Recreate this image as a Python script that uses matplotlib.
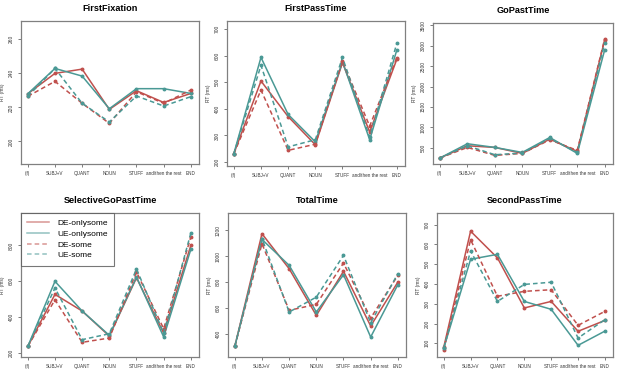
import matplotlib
matplotlib.use("Agg")
import matplotlib.pyplot as plt

plt.rcParams["font.family"] = ["Liberation Sans", "DejaVu Sans"]

# regions along the sentence
regions = ["(if)", "SUBJ+V", "QUANT", "NOUN", "STUFF", "and/then the rest", "END"]
conditions = ["DE-onlysome", "UE-onlysome", "DE-some", "UE-some"]

# mean RT (ms) per condition, order: DE-onlysome, UE-onlysome, DE-some, UE-some
firstFixation = [
    [228, 240, 242.5, 218.8, 229.8, 222.9, 228.2],
    [228, 242.9, 238.4, 219.2, 231.0, 231.0, 228.2],
    [226.5, 235.3, 222.4, 210.6, 229.2, 222.4, 230.2],
    [226.5, 242.9, 222.4, 211.4, 226.7, 220.8, 226.3],
]
firstPassTime = [
    [231, 505, 371, 265, 574, 313, 587],
    [231, 594, 379, 276, 578, 284, 622],
    [231, 471, 244, 267, 580, 335, 593],
    [231, 564, 257, 284, 594, 294, 647],
]
goPastTime = [
    [248, 549, 508, 362, 711, 411, 3150],
    [248, 598, 508, 386, 752, 362, 2906],
    [248, 508, 313, 362, 695, 435, 3175],
    [248, 549, 329, 370, 728, 386, 3069],
]
selectiveGoPastTime = [
    [235, 526, 433, 293, 619, 310, 800],
    [235, 599, 433, 297, 623, 288, 778],
    [235, 496, 258, 282, 651, 334, 847],
    [235, 562, 273, 306, 668, 310, 869],
]
totalTime = [
    [305, 1174, 904, 544, 884, 462, 801],
    [305, 1130, 930, 570, 858, 377, 781],
    [305, 1097, 583, 629, 948, 523, 853],
    [305, 1136, 570, 685, 1007, 487, 866],
]
secondPassTime = [
    [80, 667, 532, 279, 312, 161, 216],
    [75, 525, 550, 312, 272, 90, 162],
    [68, 624, 338, 363, 371, 191, 262],
    [75, 567, 312, 398, 409, 127, 220],
]

titles = ["FirstFixation", "FirstPassTime", "GoPastTime",
          "SelectiveGoPastTime", "TotalTime", "SecondPassTime"]
measures = [firstFixation, firstPassTime, goPastTime,
            selectiveGoPastTime, totalTime, secondPassTime]
yticks = [[200, 220, 240, 260],
          [200, 300, 400, 500, 600, 700],
          [500, 1000, 1500, 2000, 2500, 3000, 3500],
          [200, 400, 600, 800],
          [400, 600, 800, 1000, 1200],
          [100, 200, 300, 400, 500, 600, 700]]
ylims = [(186.7, 270.8), (185, 731), (102, 3557),
         (176, 981), (223, 1334), (31, 759)]

colors = ["#c0504d", "#4a9995", "#c0504d", "#4a9995"]
styles = ["-", "-", "--", "--"]

W, H = 624, 383
# axes boxes in pixels: left, right, top, bottom
boxes = [(21, 199, 21, 164), (227, 405, 21, 166), (433, 613, 23, 164),
         (21, 199, 213, 357), (228, 406, 213, 357), (437, 613, 213, 357)]

fig = plt.figure(figsize=(W / 100, H / 100), dpi=100)
fig.patch.set_facecolor("white")

for i in range(6):
    l, r, t, b = boxes[i]
    ax = fig.add_axes([l / W, 1 - b / H, (r - l) / W, (b - t) / H])
    x = list(range(len(regions)))
    for j in range(4):
        ax.plot(x, measures[i][j], color=colors[j], linestyle=styles[j],
                linewidth=1.1, marker="o", markersize=1.8,
                dashes=(3, 2) if styles[j] == "--" else (None, None),
                label=conditions[j])
    ax.set_xlim(-0.25, 6.3)
    ax.set_ylim(*ylims[i])
    ax.set_xticks(x)
    ax.set_xticklabels(regions, fontsize=3.3, color="#333333")
    ax.set_yticks(yticks[i])
    ax.set_yticklabels([str(v) for v in yticks[i]], fontsize=3.5,
                       rotation=90, va="center", color="#333333")
    ax.tick_params(length=2.5, width=0.6, color="#666666", pad=2.5)
    ax.set_ylabel("RT (ms)", fontsize=3.5, color="#333333")
    ax.yaxis.set_label_coords(-16.0 / (r - l), 0.5)
    ax.set_title(titles[i], fontsize=6.6, fontweight="bold", pad=7)
    for s in ax.spines.values():
        s.set_color("#808080")
        s.set_linewidth(0.9)
    if i == 3:
        leg = ax.legend(loc="upper left", fontsize=6, frameon=True,
                        fancybox=False, borderaxespad=0, handlelength=2.6,
                        labelspacing=0.35, borderpad=0.75, handletextpad=1.0)
        leg.get_frame().set_edgecolor("#555555")
        leg.get_frame().set_linewidth(0.8)
        for h in leg.get_lines():
            h.set_marker("")
            h.set_alpha(0.6)

fig.savefig("out.png", dpi=100)
